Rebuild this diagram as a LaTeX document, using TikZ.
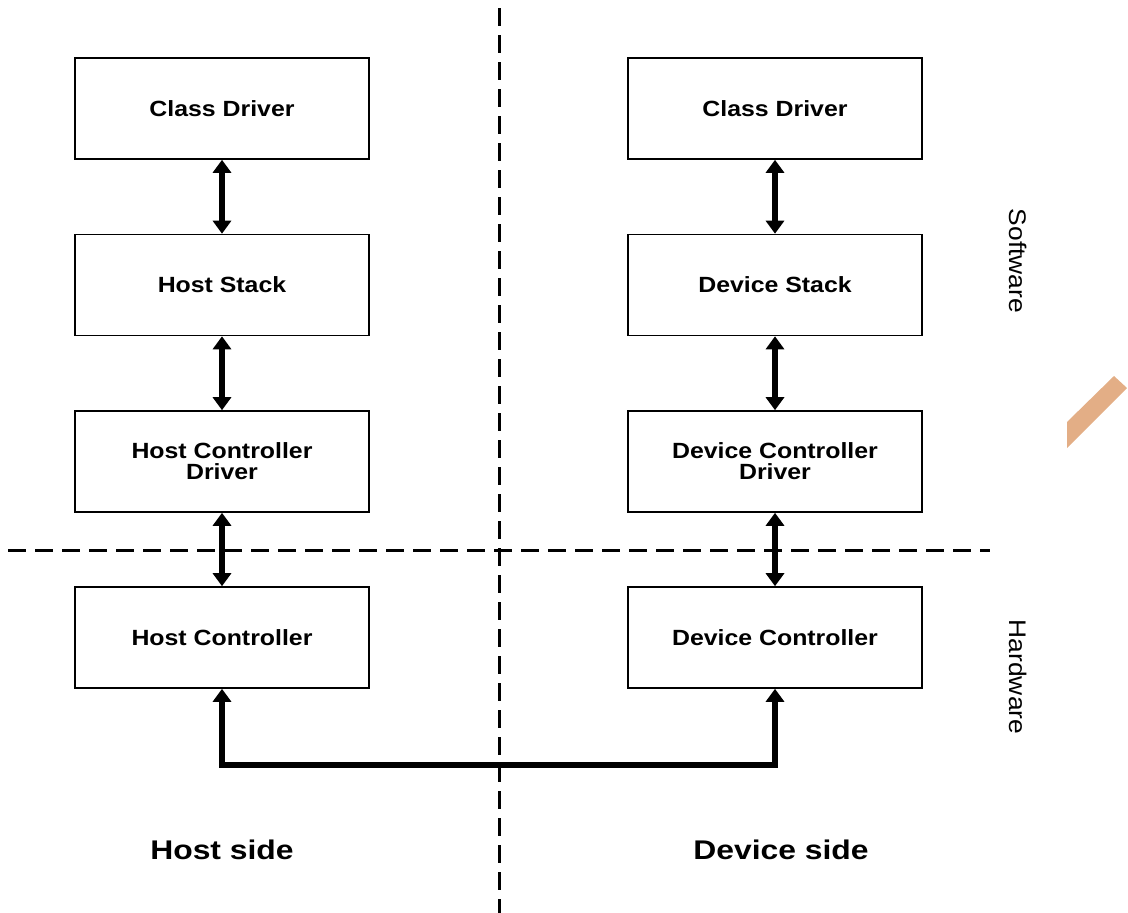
\documentclass[tikz,border=0pt]{standalone}
\usepackage{fontspec}
\setmainfont{Liberation Sans}
\usetikzlibrary{arrows.meta}
\definecolor{peach}{HTML}{E3AE86}
\newcommand{\wideA}[1]{\scalebox{1.13}[1]{#1}}
\newcommand{\wideB}[1]{\scalebox{1.18}[1]{#1}}
\newcommand{\wideC}[1]{\scalebox{1.1}[1]{#1}}
\begin{document}
\begin{tikzpicture}[x=1pt,y=-1pt,
  box/.style={draw=black,line width=1.6pt,minimum width=294pt,minimum height=101pt,inner sep=0pt,align=center,font=\fontsize{22}{22}\selectfont\bfseries},
  biarrow/.style={line width=6.5pt,line join=miter,{Triangle[width=18pt,length=13pt]}-{Triangle[width=18pt,length=13pt]}},
  divider/.style={line width=3pt,dash pattern=on 18pt off 9pt},
  sidelabel/.style={font=\fontsize{27}{30}\selectfont\bfseries},
  layerlabel/.style={font=\fontsize{24}{26}\selectfont,rotate=-90}]
\useasboundingbox (0,0) rectangle (1128,913);
% dividers
\coordinate (vt) at (499,8);
\coordinate (vb) at (499,913);
\coordinate (hl) at (8,550);
\coordinate (hr) at (990,550);
\draw[divider] (vt) -- (vb);
\draw[divider] (hl) -- (hr);
% host side
\node[box] (hcd) at (222,108.5) {\wideA{Class Driver}};
\node[box] (hs)  at (222,285) {\wideA{Host Stack}};
\node[box] (hcdr) at (222,461.5) {\wideA{Host Controller}\\[-1pt]\wideA{Driver}};
\node[box] (hc)  at (222,637.5) {\wideA{Host Controller}};
% device side
\node[box] (dcd) at (775,108.5) {\wideA{Class Driver}};
\node[box] (ds)  at (775,285) {\wideA{Device Stack}};
\node[box] (dcdr) at (775,461.5) {\wideA{Device Controller}\\[-1pt]\wideA{Driver}};
\node[box] (dc)  at (775,637.5) {\wideA{Device Controller}};
% arrows
\draw[biarrow] (hcd.south) -- (hs.north);
\draw[biarrow] (hs.south) -- (hcdr.north);
\draw[biarrow] (hcdr.south) -- (hc.north);
\draw[biarrow] (dcd.south) -- (ds.north);
\draw[biarrow] (ds.south) -- (dcdr.north);
\draw[biarrow] (dcdr.south) -- (dc.north);
% bus
\coordinate (bl) at (222,765);
\coordinate (br) at (775,765);
\draw[biarrow] (hc.south) -- (bl) -- (br) -- (dc.south);
% labels
\node[sidelabel] (hside) at (222,850) {\wideB{Host side}};
\node[sidelabel] (dside) at (781,850) {\wideB{Device side}};
\node[layerlabel] (sw) at (1018,261) {\wideC{Software}};
\node[layerlabel] (hw) at (1018,677) {\wideC{Hardware}};
% orange stroke
\fill[peach] (1067,422) -- (1114,376) -- (1127,388) -- (1067,448) -- cycle;
\end{tikzpicture}
\end{document}
